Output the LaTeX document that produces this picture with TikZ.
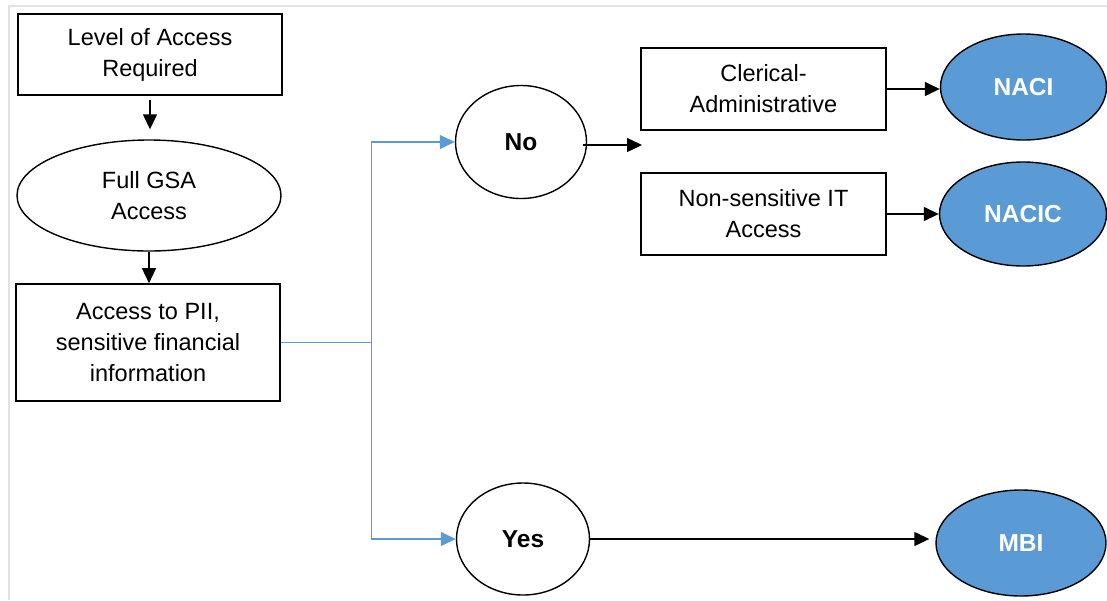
\documentclass[tikz,border=0pt]{standalone}
\usepackage{fontspec}
\setmainfont{Liberation Sans}
\usepackage{xcolor}
\definecolor{accessblue}{RGB}{91,155,213}
\definecolor{framegray}{RGB}{226,226,226}
\usetikzlibrary{positioning, calc, shapes.geometric, arrows.meta}
\tikzstyle{Box} = [
draw, line width=1.6pt, rectangle, align=center, inner sep=0pt,
font=\fontsize{23.5}{31}\selectfont]
\tikzstyle{Oval} = [
draw, line width=1.4pt, ellipse, align=center, inner sep=0pt,
font=\fontsize{23.5}{31}\selectfont]
\tikzstyle{Answer} = [Oval, font=\fontsize{24.5}{28}\selectfont\bfseries]
\tikzstyle{Result} = [Answer, fill=accessblue, text=white]
\tikzstyle{Arrow} = [line width=1.4pt, -{Triangle[length=15pt,width=14pt]}]
\tikzstyle{Branch} = [line width=1.1pt, accessblue, -{Triangle[length=15pt,width=14pt]}]

\begin{document}
\begin{tikzpicture}[x=1pt, y=-1pt]
    \useasboundingbox (0,0) rectangle (1107,600);
    \draw[framegray, line width=2pt] (9,600) -- (9,6) -- (1107,6);

    \node [Box, minimum width=264, minimum height=81] (level) at (150,54.5) {Level of Access\\Required};
    \node [Oval, minimum width=264, minimum height=111] (full) at (149,195.5) {Full GSA\\Access};
    \node [Box, minimum width=264, minimum height=117] (pii) at (148,342.5) {Access to PII,\\sensitive financial\\information};
    \node [Answer, minimum width=131, minimum height=113] (no) at (521,142) {No};
    \node [Answer, minimum width=133, minimum height=112] (yes) at (523,539) {Yes};
    \node [Box, minimum width=245, minimum height=82] (clerical) at (763.5,89) {Clerical-\\Administrative};
    \node [Box, minimum width=245, minimum height=82] (nonsens) at (763.5,214) {Non-sensitive IT\\Access};
    \node [Result, minimum width=166, minimum height=106] (naci) at (1023.5,87) {NACI};
    \node [Result, minimum width=167, minimum height=104] (nacic) at (1023,214) {NACIC};
    \node [Result, minimum width=170, minimum height=106] (mbi) at (1021,543) {MBI};
    \coordinate (split) at (642,145);

    \draw[Arrow, shorten <=4pt, shorten >=10pt] (level.south) -- (level.south |- full.north);
    \draw[Arrow] (full.south) -- (full.south |- pii.north);
    \draw[Branch] (pii.east) -- ++(91,0) |- (no.west);
    \draw[Branch] (pii.east) -- ++(91,0) |- (yes.west);
    \draw[Arrow] ([xshift=-4pt]no.east |- split) -- (split);
    \draw[Arrow] (clerical.east) -- (clerical.east -| naci.west);
    \draw[Arrow] (nonsens.east) -- (nonsens.east -| nacic.west);
    \draw[Arrow, shorten >=6pt] (yes.east) -- (yes.east -| mbi.west);
\end{tikzpicture}
\end{document}
